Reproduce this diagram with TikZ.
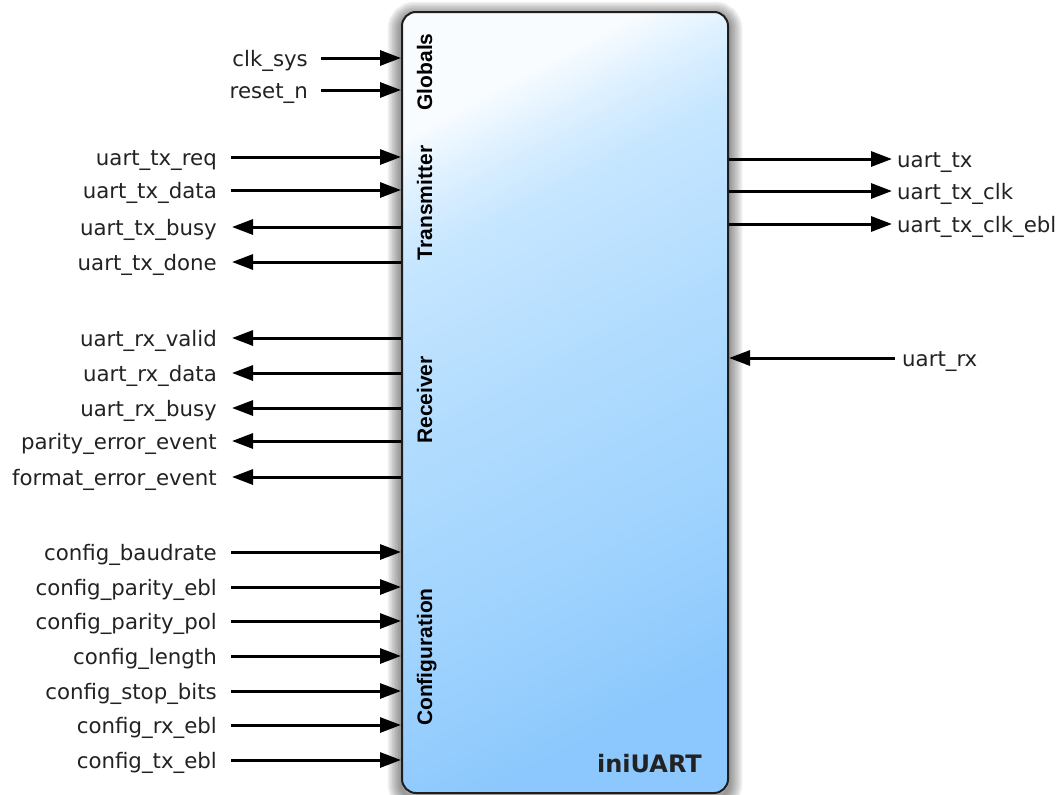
\documentclass[tikz,border=0pt]{standalone}
\usepackage{fontspec}
\setmainfont{DejaVu Sans}
\newfontfamily\secfont{Liberation Sans}
\usetikzlibrary{arrows.meta,backgrounds}
\definecolor{boxtop}{HTML}{F8FCFF}
\definecolor{boxca}{HTML}{DDF0FF}
\definecolor{boxcb}{HTML}{C6E6FF}
\definecolor{boxcc}{HTML}{B2DCFE}
\definecolor{boxcd}{HTML}{9FD3FE}
\definecolor{boxbot}{HTML}{8CC8FD}
\definecolor{boxline}{HTML}{1E1E1E}
\definecolor{sigtext}{HTML}{222222}
\pgfdeclareverticalshading{ublockshade}{100bp}{color(0bp)=(boxbot); color(25bp)=(boxbot);
  color(37.5bp)=(boxcd); color(53bp)=(boxcc); color(65.5bp)=(boxcb); color(70.5bp)=(boxca);
  color(75bp)=(boxtop); color(100bp)=(boxtop)}
\begin{document}
\begin{tikzpicture}[x=1pt,y=-1pt,
  sig/.style={font=\fontsize{21.3}{25}\selectfont, text=sigtext, inner sep=0pt},
  sec/.style={font=\secfont\bfseries\fontsize{21}{25}\selectfont, text=black, rotate=90, anchor=base, inner sep=0pt},
  wire/.style={line width=3pt, black},
  arr/.style={wire, -{Triangle[length=21pt,width=15pt]}},
  ublock/.style={draw=boxline, line width=2pt, rounded corners=14pt, inner sep=0pt,
    minimum width=326pt, minimum height=781pt,
    shading=ublockshade, shading angle=28}
]
\useasboundingbox (0,0) rectangle (1063,795);

\node[ublock] (main) at (565,402.5) {};
\begin{scope}[on background layer]
  \foreach \w in {3,6,...,27}
    \draw[line width=\w pt, black, opacity=0.055, rounded corners=14pt]
      ([yshift=-4pt]main.north west) rectangle ([yshift=-4pt]main.south east);
\end{scope}

% section labels
\node[sec] (sglob) at (432,72) {Globals};
\node[sec] (stx) at (432,203) {Transmitter};
\node[sec] (srx) at (432,400) {Receiver};
\node[sec] (scfg) at (432,657) {Configuration};
\node[font=\bfseries\fontsize{24}{28}\selectfont, text=sigtext, anchor=base east, inner sep=0pt] (title) at (702,772) {iniUART};

% short inputs
\foreach \i/\t/\y in {1/clk\_sys/58, 2/reset\_n/90}{
  \coordinate (si\i) at (321,\y);
  \node[sig, anchor=base east] (lsi\i) at (308,\y+8.5) {\t};
  \draw[arr] (si\i) -- (si\i -| main.west);
}
% long inputs
\foreach \i/\t/\y in {1/uart\_tx\_req/157, 2/uart\_tx\_data/190,
  3/config\_baudrate/552, 4/config\_parity\_ebl/587, 5/config\_parity\_pol/621,
  6/config\_length/656, 7/config\_stop\_bits/691, 8/config\_rx\_ebl/725, 9/config\_tx\_ebl/760}{
  \coordinate (li\i) at (231,\y);
  \node[sig, anchor=base east] (lli\i) at (217,\y+8.5) {\t};
  \draw[arr] (li\i) -- (li\i -| main.west);
}
% left outputs
\foreach \i/\t/\y in {1/uart\_tx\_busy/227, 2/uart\_tx\_done/262,
  3/uart\_rx\_valid/338, 4/uart\_rx\_data/373, 5/uart\_rx\_busy/408,
  6/parity\_error\_event/441, 7/format\_error\_event/477}{
  \coordinate (lo\i) at (232,\y);
  \node[sig, anchor=base east] (llo\i) at (217,\y+8.5) {\t};
  \draw[arr] (lo\i -| main.west) -- (lo\i);
}
% right outputs
\foreach \i/\t/\y in {1/uart\_tx/159, 2/uart\_tx\_clk/191, 3/uart\_tx\_clk\_ebl/224}{
  \coordinate (ro\i) at (892,\y);
  \node[sig, anchor=base west] (lro\i) at (897,\y+8.5) {\t};
  \draw[arr] (ro\i -| main.east) -- (ro\i);
}
% right input
\coordinate (ri1) at (895,358);
\node[sig, anchor=base west] (lri1) at (902,358+8.5) {uart\_rx};
\draw[arr] (ri1) -- (ri1 -| main.east);
\end{tikzpicture}
\end{document}
